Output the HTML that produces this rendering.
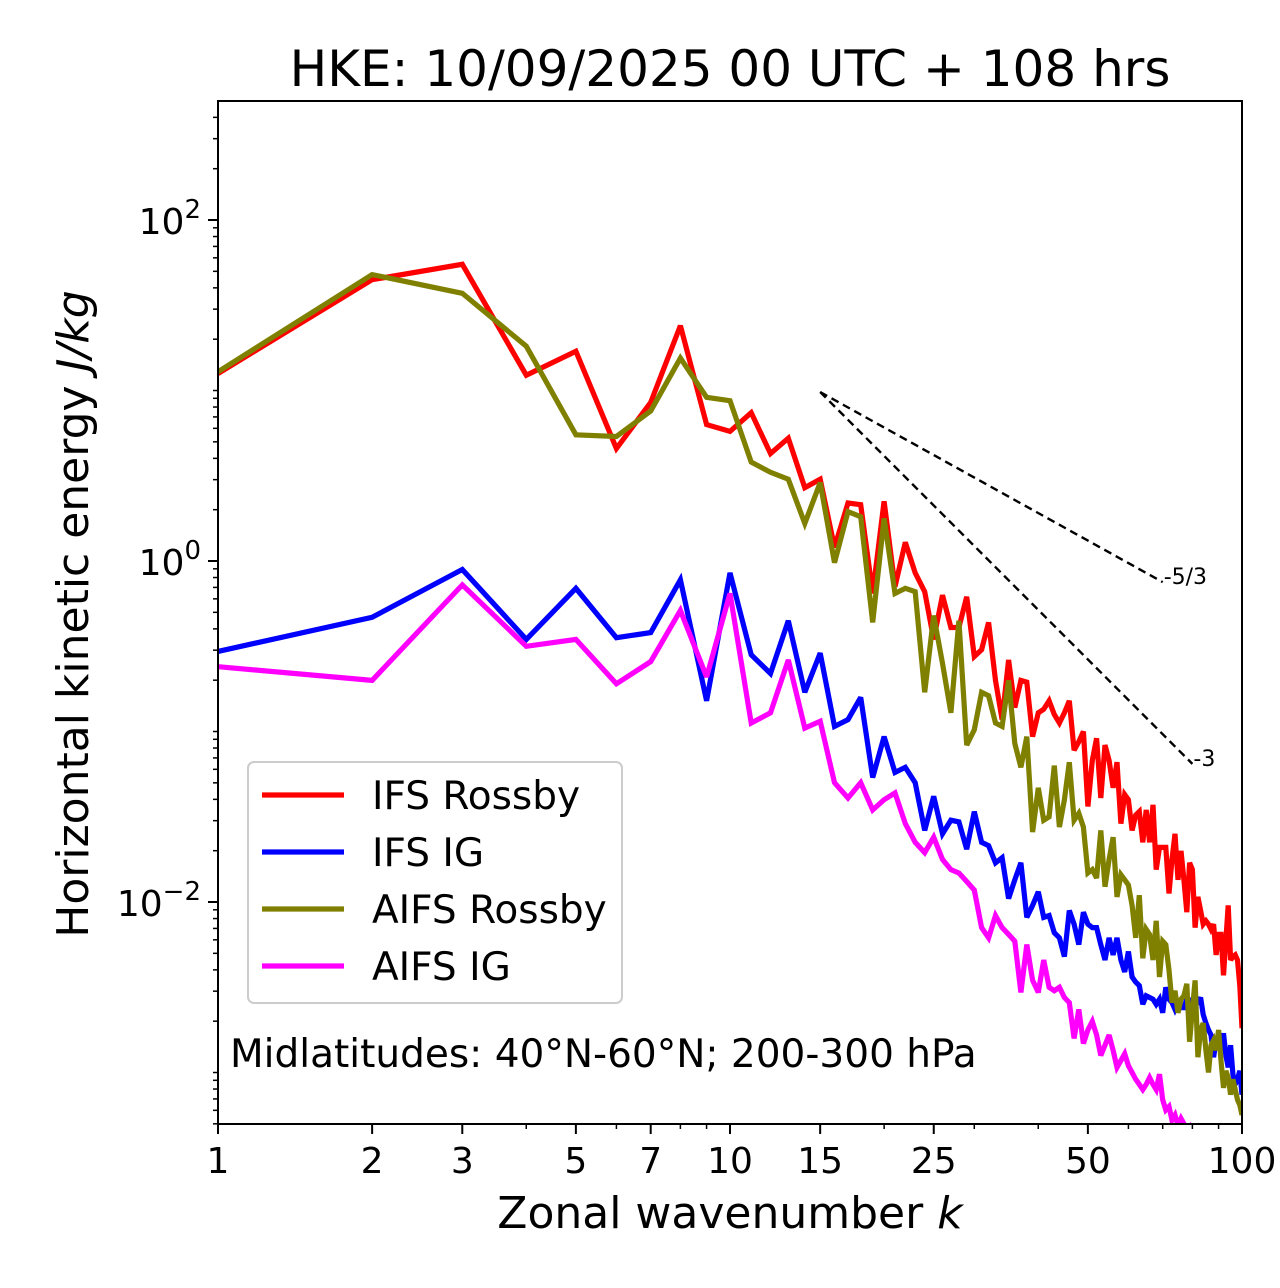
<!DOCTYPE html>
<html><head><meta charset="utf-8"><style>
html,body{margin:0;padding:0;background:#fff;}
svg{display:block;font-family:"DejaVu Sans","Liberation Sans",sans-serif;}
</style></head><body>
<svg id="chart" width="1280" height="1288" viewBox="0 0 1280 1288" xmlns="http://www.w3.org/2000/svg">
<defs><clipPath id="plotclip"><rect x="218" y="101" width="1024" height="1023"/></clipPath></defs>
<text x="730" y="86" font-size="50" text-anchor="middle">HKE: 10/09/2025 00 UTC + 108 hrs</text>
<g id="ticks"></g>
<g id="series" clip-path="url(#plotclip)"></g>
<rect x="218" y="101" width="1024" height="1023" fill="none" stroke="#000" stroke-width="2"/>
<text x="730" y="1228" font-size="44" text-anchor="middle">Zonal wavenumber <tspan font-style="italic">k</tspan></text>
<text transform="translate(88,614) rotate(-90)" font-size="44" text-anchor="middle">Horizontal kinetic energy <tspan font-style="italic">J/kg</tspan></text>
<g>
<rect x="248" y="762" width="374" height="241" rx="6" fill="#fff" fill-opacity="0.8" stroke="#ccc" stroke-width="2"/>
<line x1="262" y1="795" x2="344" y2="795" stroke="#ff0000" stroke-width="5.2"/>
<text x="372" y="809" font-size="39">IFS Rossby</text>
<line x1="262" y1="852" x2="344" y2="852" stroke="#0000ff" stroke-width="5.2"/>
<text x="372" y="866" font-size="39">IFS IG</text>
<line x1="262" y1="909" x2="344" y2="909" stroke="#808000" stroke-width="5.2"/>
<text x="372" y="923" font-size="39">AIFS Rossby</text>
<line x1="262" y1="966" x2="344" y2="966" stroke="#ff00ff" stroke-width="5.2"/>
<text x="372" y="980" font-size="39">AIFS IG</text>
</g>
<text x="230" y="1067" font-size="39">Midlatitudes: 40°N-60°N; 200-300 hPa</text>
</svg>
<script>
// log10 of horizontal kinetic energy (J/kg) for wavenumbers k = 1..100
const ifsRossbyLog = [1.10,1.65,1.74,1.09,1.23,0.66,0.93,1.38,0.80,0.76,0.87,0.63,0.72,0.43,0.48,0.08,0.34,0.33,-0.19,0.35,-0.15,0.11,-0.07,-0.18,-0.46,-0.20,-0.39,-0.39,-0.21,-0.56,-0.52,-0.36,-0.70,-0.93,-0.58,-0.86,-0.70,-0.71,-1.03,-0.89,-0.87,-0.82,-0.90,-0.95,-0.89,-0.82,-1.11,-1.06,-1.00,-1.44,-1.17,-1.04,-1.39,-1.08,-1.17,-1.33,-1.18,-1.54,-1.37,-1.40,-1.58,-1.49,-1.47,-1.65,-1.46,-1.65,-1.43,-1.81,-1.68,-1.68,-1.68,-1.95,-1.75,-1.60,-1.87,-1.70,-1.87,-2.06,-1.77,-1.81,-2.15,-1.97,-2.05,-2.13,-2.11,-2.13,-2.16,-2.13,-2.31,-2.19,-2.19,-2.43,-2.22,-2.02,-2.34,-2.32,-2.31,-2.34,-2.49,-2.74];
const ifsIGLog = [-0.53,-0.33,-0.05,-0.46,-0.16,-0.45,-0.42,-0.11,-0.82,-0.07,-0.55,-0.66,-0.35,-0.77,-0.54,-0.97,-0.93,-0.80,-1.27,-1.03,-1.24,-1.21,-1.30,-1.58,-1.38,-1.60,-1.52,-1.53,-1.69,-1.47,-1.65,-1.67,-1.77,-1.74,-1.98,-1.87,-1.77,-2.09,-2.02,-1.94,-2.09,-2.08,-2.18,-2.21,-2.32,-2.05,-2.13,-2.25,-2.06,-2.13,-2.15,-2.15,-2.25,-2.34,-2.21,-2.31,-2.21,-2.34,-2.41,-2.29,-2.44,-2.47,-2.49,-2.60,-2.55,-2.56,-2.57,-2.60,-2.57,-2.65,-2.50,-2.57,-2.59,-2.63,-2.59,-2.62,-2.62,-2.57,-2.59,-2.57,-2.60,-2.59,-2.56,-2.66,-2.71,-2.75,-2.78,-2.91,-2.81,-2.84,-2.87,-2.77,-2.90,-2.97,-2.84,-3.01,-3.07,-3.04,-2.99,-3.13];
const aifsRossbyLog = [1.11,1.68,1.57,1.26,0.74,0.73,0.88,1.19,0.96,0.94,0.58,0.52,0.48,0.22,0.46,-0.01,0.29,0.26,-0.36,0.25,-0.19,-0.16,-0.18,-0.77,-0.32,-0.60,-0.89,-0.35,-1.08,-0.99,-0.77,-0.79,-0.95,-0.97,-0.70,-1.07,-1.21,-1.03,-1.59,-1.33,-1.52,-1.50,-1.20,-1.56,-1.40,-1.18,-1.52,-1.48,-1.56,-1.83,-1.81,-1.86,-1.58,-1.91,-1.75,-1.62,-1.97,-1.84,-1.87,-1.90,-2.02,-2.21,-1.96,-2.33,-2.16,-2.19,-2.34,-2.11,-2.44,-2.23,-2.25,-2.40,-2.59,-2.52,-2.65,-2.57,-2.55,-2.48,-2.82,-2.63,-2.46,-2.91,-2.75,-2.71,-2.87,-3.00,-2.84,-2.81,-2.87,-2.75,-2.93,-3.09,-2.99,-3.03,-3.13,-3.04,-3.10,-3.16,-3.19,-3.25];
const aifsIGLog = [-0.62,-0.70,-0.14,-0.50,-0.46,-0.72,-0.59,-0.29,-0.68,-0.19,-0.95,-0.89,-0.58,-0.98,-0.94,-1.30,-1.39,-1.30,-1.46,-1.40,-1.36,-1.54,-1.65,-1.71,-1.62,-1.75,-1.81,-1.83,-1.88,-1.93,-2.15,-2.21,-2.08,-2.15,-2.19,-2.23,-2.53,-2.25,-2.46,-2.53,-2.34,-2.50,-2.52,-2.50,-2.56,-2.59,-2.80,-2.63,-2.83,-2.75,-2.70,-2.78,-2.90,-2.84,-2.78,-2.87,-2.97,-2.93,-2.89,-2.96,-3.00,-3.04,-3.07,-3.10,-3.07,-3.03,-3.07,-3.10,-3.01,-3.16,-3.22,-3.20,-3.28,-3.25,-3.31,-3.27,-3.30,-3.36,-3.33,-3.40,-3.38,-3.42,-3.37,-3.45,-3.43,-3.48,-3.44,-3.50,-3.47,-3.52,-3.48,-3.31,-3.55,-3.53,-3.58,-3.55,-3.60,-3.58,-3.62,-3.65];
const xTickValues = [1,2,3,5,7,10,15,25,50,100];
const xTickLabels = ["1","2","3","5","7","10","15","25","50","100"];
const xMinorValues = [4,6,8,9,20,30,40,60,70,80,90];
const yMajorExps = [-2,0,2];
const yMajorLabels = ["10","10","10"];
const yMajorSup = ["\u22122","0","2"];
const refStartK = 15, refStartE = 9.8;
const refSlopes = [-5/3, -3];
const refEndK = [70, 80];
const refLabels = ["-5/3","-3"];

const X0=218, X1=1242, Y0=101, Y1=1124;
const xMinLog=0, xMaxLog=2, yMinLog=-3.302, yMaxLog=2.698;
function xs(k){return X0+(Math.log10(k)-xMinLog)/(xMaxLog-xMinLog)*(X1-X0);}
function ysLog(l){return Y1-(l-yMinLog)/(yMaxLog-yMinLog)*(Y1-Y0);}
const NS="http://www.w3.org/2000/svg";
const ticks=document.getElementById('ticks'), series=document.getElementById('series');
function mk(tag,attrs,parent){const e=document.createElementNS(NS,tag);for(const a in attrs)e.setAttribute(a,attrs[a]);parent.appendChild(e);return e;}

xTickValues.forEach((v,i)=>{
  const x=xs(v);
  const t=mk('line',{x1:x,y1:Y1,x2:x,y2:Y1+10,stroke:'#000','stroke-width':2},ticks);
  
  
  const lb=mk('text',{x:x,y:Y1+49,'font-size':36,'text-anchor':'middle'},ticks);
  lb.textContent=xTickLabels[i];
  
  
});
xMinorValues.forEach(v=>{
  const x=xs(v);
  const t=mk('line',{x1:x,y1:Y1,x2:x,y2:Y1+5,stroke:'#000','stroke-width':1.5},ticks);
  
  
});
for(let e=-4;e<=2;e++){
  for(let m=1;m<=9;m++){
    const l=e+Math.log10(m);
    if(l<yMinLog||l>yMaxLog)continue;
    if(m===1&&yMajorExps.includes(e))continue;
    const y=ysLog(l);
    const t=mk('line',{x1:X0-5,y1:y,x2:X0,y2:y,stroke:'#000','stroke-width':1.5},ticks);
    
    
  }
}
yMajorExps.forEach((e,i)=>{
  const y=ysLog(e);
  const t=mk('line',{x1:X0-10,y1:y,x2:X0,y2:y,stroke:'#000','stroke-width':2},ticks);
  
  
  const lb=mk('text',{x:X0-17,y:y+14,'font-size':36,'text-anchor':'end'},ticks);
  
  
  const base=document.createElementNS(NS,'tspan');base.textContent=yMajorLabels[i];lb.appendChild(base);
  const sup=document.createElementNS(NS,'tspan');sup.setAttribute('dy','-16');sup.setAttribute('font-size','26');sup.textContent=yMajorSup[i];lb.appendChild(sup);
});

function drawSeries(arr,color,name){
  const pts=arr.map((l,i)=>xs(i+1).toFixed(1)+','+ysLog(l).toFixed(1)).join(' ');
  const p=mk('polyline',{points:pts,fill:'none',stroke:color,'stroke-width':5.2,'stroke-linejoin':'miter','stroke-miterlimit':3},series);
  
  
}
drawSeries(ifsRossbyLog,'#ff0000','ifs-rossby-line');
drawSeries(ifsIGLog,'#0000ff','ifs-ig-line');
drawSeries(aifsRossbyLog,'#808000','aifs-rossby-line');
drawSeries(aifsIGLog,'#ff00ff','aifs-ig-line');

const svg=document.getElementById('chart');
refSlopes.forEach((s,i)=>{
  const l0=Math.log10(refStartE);
  const l1=l0+s*Math.log10(refEndK[i]/refStartK);
  const ln=mk('line',{x1:xs(refStartK),y1:ysLog(l0),x2:xs(refEndK[i]),y2:ysLog(l1),stroke:'#000','stroke-width':2.4,'stroke-dasharray':'8,5'},svg);
  
  
  const tx=mk('text',{x:xs(refEndK[i])+1,y:ysLog(l1)+2,'font-size':22},svg);
  tx.textContent=refLabels[i];
  
  
});
</script>
</body></html>
